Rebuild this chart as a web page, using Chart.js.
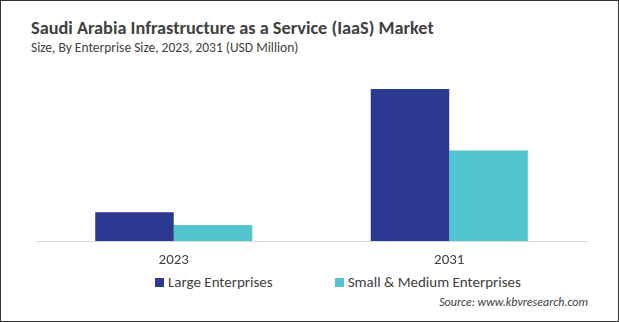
<!DOCTYPE html>
<html lang="en">
<head>
  <meta charset="UTF-8" />
  <title>Saudi Arabia IaaS Market</title>
  <script src="https://cdn.jsdelivr.net/npm/chart.js"></script>
  <style>
    html, body {
      margin: 0;
      padding: 0;
      background: #fff;
    }
    #frame {
      position: relative;
      width: 619px;
      height: 322px;
      box-sizing: border-box;
      border: 1px solid #333;
      overflow: hidden;
      font-family: Calibri, Carlito, Lato, sans-serif;
      color: #404040;
    }
    #title {
      position: absolute;
      left: 30px;
      top: 16px;
      font-size: 18.3px;
      font-weight: bold;
      color: #404040;
      white-space: nowrap;
    }
    #subtitle {
      position: absolute;
      left: 30px;
      top: 38px;
      font-size: 13.5px;
      color: #404040;
      white-space: nowrap;
    }
    #marketChart {
      position: absolute;
      left: -1px;
      top: 59px;
    }
    #legend {
      position: absolute;
      top: 272px;
      left: 154px;
      display: flex;
      font-size: 15px;
      color: #404040;
    }
    .item {
      display: flex;
      align-items: center;
      margin-right: 62px;
    }
    .swatch {
      width: 9px;
      height: 9px;
      margin-right: 4px;
    }
    #source {
      position: absolute;
      right: 30px;
      top: 294px;
      font-size: 12px;
      font-style: italic;
      color: #404040;
    }
  </style>
</head>
<body>
  <div id="frame">
    <div id="title">Saudi Arabia Infrastructure as a Service (IaaS) Market</div>
    <div id="subtitle">Size, By Enterprise Size, 2023, 2031 (USD Million)</div>
    <canvas id="marketChart" width="619" height="211"></canvas>
    <div id="legend"></div>
    <div id="source">Source: www.kbvresearch.com</div>
  </div>

  <script>
    // values (USD Million, estimated)
    const years = ["2023", "2031"];
    const largeEnterprises = [290, 1530];
    const smallMediumEnterprises = [160, 910];
    const seriesNames = ["Large Enterprises", "Small & Medium Enterprises"];
    const seriesColors = ["#2b3990", "#52c4cd"];

    const ctx = document.getElementById("marketChart").getContext("2d");
    const chart = new Chart(ctx, {
      type: "bar",
      data: {
        labels: years,
        datasets: [
          { label: seriesNames[0], data: largeEnterprises, backgroundColor: seriesColors[0] },
          { label: seriesNames[1], data: smallMediumEnterprises, backgroundColor: seriesColors[1] }
        ]
      },
      options: {
        responsive: false,
        animation: false,
        categoryPercentage: 0.57,
        barPercentage: 1.0,
        layout: { padding: { left: 36, right: 32, top: 12, bottom: 0 } },
        plugins: {
          legend: { display: false },
          tooltip: { enabled: false }
        },
        scales: {
          x: {
            grid: { display: false, drawTicks: false },
            border: { display: true, color: "#d9d9d9", width: 1 },
            ticks: {
              padding: 10,
              maxRotation: 0,
              color: "#404040",
              font: { family: "Calibri, Carlito, Lato, sans-serif", size: 15 }
            },
            // fixed axis height so the baseline lands where the original has it
            afterFit: (scale) => { scale.height = 30; }
          },
          y: {
            display: false,
            min: 0,
            max: 1700
          }
        }
      }
    });

    // legend built from the same series arrays
    const legendDiv = document.getElementById("legend");
    seriesNames.forEach((name, i) => {
      const item = document.createElement("div");
      item.className = "item";
      item.innerHTML = `<span class="swatch" style="background:${seriesColors[i]}"></span>${name}`;
      legendDiv.appendChild(item);
    });
  </script>
</body>
</html>
